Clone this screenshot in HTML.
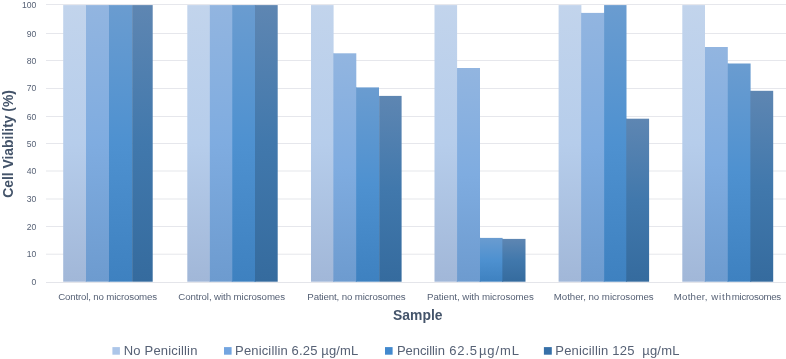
<!DOCTYPE html>
<html><head><meta charset="utf-8"><title>Cell Viability</title>
<style>html,body{margin:0;padding:0;background:#fff}svg{display:block}text{font-family:"Liberation Sans",sans-serif}</style></head><body>
<svg width="786" height="359" viewBox="0 0 786 359">
<defs>
<linearGradient id="g0" x1="0" y1="0" x2="0" y2="1"><stop offset="0" stop-color="rgb(194, 212, 236)"/><stop offset="0.5" stop-color="rgb(182, 205, 235)"/><stop offset="1" stop-color="rgb(161, 183, 216)"/></linearGradient>
<linearGradient id="g1" x1="0" y1="0" x2="0" y2="1"><stop offset="0" stop-color="rgb(146, 181, 224)"/><stop offset="0.5" stop-color="rgb(127, 172, 224)"/><stop offset="1" stop-color="rgb(109, 155, 207)"/></linearGradient>
<linearGradient id="g2" x1="0" y1="0" x2="0" y2="1"><stop offset="0" stop-color="rgb(106, 156, 208)"/><stop offset="0.5" stop-color="rgb(78, 145, 208)"/><stop offset="1" stop-color="rgb(62, 129, 192)"/></linearGradient>
<linearGradient id="g3" x1="0" y1="0" x2="0" y2="1"><stop offset="0" stop-color="rgb(94, 134, 178)"/><stop offset="0.5" stop-color="rgb(65, 120, 172)"/><stop offset="1" stop-color="rgb(53, 107, 158)"/></linearGradient>
</defs>
<rect width="786" height="359" fill="#fff"/>
<rect x="46" y="282" width="740" height="1" fill="#e4e5ea"/>
<rect x="46" y="253.7" width="740" height="1" fill="#e6e7ec"/>
<rect x="46" y="226" width="740" height="1" fill="#e6e7ec"/>
<rect x="46" y="198.5" width="740" height="1" fill="#e6e7ec"/>
<rect x="46" y="170.5" width="740" height="1" fill="#e6e7ec"/>
<rect x="46" y="143" width="740" height="1" fill="#e6e7ec"/>
<rect x="46" y="116" width="740" height="1" fill="#e6e7ec"/>
<rect x="46" y="88" width="740" height="1" fill="#e6e7ec"/>
<rect x="46" y="60" width="740" height="1" fill="#e6e7ec"/>
<rect x="46" y="33" width="740" height="1" fill="#e6e7ec"/>
<rect x="46" y="4" width="740" height="1" fill="#e6e7ec"/>
<text x="36.3" y="284.80" text-anchor="end" font-size="8.6" fill="#566175">0</text>
<text x="36.3" y="257.10" text-anchor="end" font-size="8.6" fill="#566175">10</text>
<text x="36.3" y="229.60" text-anchor="end" font-size="8.6" fill="#566175">20</text>
<text x="36.3" y="201.70" text-anchor="end" font-size="8.6" fill="#566175">30</text>
<text x="36.3" y="174.20" text-anchor="end" font-size="8.6" fill="#566175">40</text>
<text x="36.3" y="147.20" text-anchor="end" font-size="8.6" fill="#566175">50</text>
<text x="36.3" y="119.50" text-anchor="end" font-size="8.6" fill="#566175">60</text>
<text x="36.3" y="91.20" text-anchor="end" font-size="8.6" fill="#566175">70</text>
<text x="36.3" y="64.40" text-anchor="end" font-size="8.6" fill="#566175">80</text>
<text x="36.3" y="37.00" text-anchor="end" font-size="8.6" fill="#566175">90</text>
<text x="36.3" y="8.10" text-anchor="end" font-size="8.6" fill="#566175">100</text>
<rect x="85.40" y="5.10" width="1.2" height="276.60" fill="url(#g0)"/>
<rect x="108.40" y="5.10" width="1.2" height="276.60" fill="url(#g1)"/>
<rect x="63.20" y="5.10" width="22.80" height="276.60" fill="url(#g0)"/>
<rect x="86.00" y="5.10" width="23.00" height="276.60" fill="url(#g1)"/>
<rect x="109.00" y="5.10" width="23.00" height="276.60" fill="url(#g2)"/>
<rect x="132.10" y="5.10" width="20.60" height="276.60" fill="url(#g3)"/>
<rect x="209.20" y="5.10" width="1.2" height="276.60" fill="url(#g0)"/>
<rect x="231.60" y="5.10" width="1.2" height="276.60" fill="url(#g1)"/>
<rect x="254.40" y="5.10" width="1.2" height="276.60" fill="url(#g2)"/>
<rect x="187.30" y="5.10" width="22.50" height="276.60" fill="url(#g0)"/>
<rect x="209.80" y="5.10" width="22.40" height="276.60" fill="url(#g1)"/>
<rect x="232.20" y="5.10" width="22.80" height="276.60" fill="url(#g2)"/>
<rect x="255.00" y="5.10" width="22.70" height="276.60" fill="url(#g3)"/>
<rect x="333.00" y="53.30" width="1.2" height="228.40" fill="url(#g1)"/>
<rect x="355.70" y="87.40" width="1.2" height="194.30" fill="url(#g2)"/>
<rect x="311.00" y="5.10" width="22.60" height="276.60" fill="url(#g0)"/>
<rect x="333.60" y="53.30" width="22.70" height="228.40" fill="url(#g1)"/>
<rect x="356.30" y="87.40" width="22.70" height="194.30" fill="url(#g2)"/>
<rect x="379.10" y="95.90" width="22.50" height="185.80" fill="url(#g3)"/>
<rect x="456.50" y="68.00" width="1.2" height="213.70" fill="url(#g1)"/>
<rect x="479.40" y="237.90" width="1.2" height="43.80" fill="url(#g2)"/>
<rect x="502.00" y="238.90" width="1.2" height="42.80" fill="url(#g3)"/>
<rect x="434.50" y="5.10" width="22.60" height="276.60" fill="url(#g0)"/>
<rect x="457.10" y="68.00" width="22.90" height="213.70" fill="url(#g1)"/>
<rect x="480.00" y="237.90" width="22.60" height="43.80" fill="url(#g2)"/>
<rect x="502.60" y="238.90" width="22.90" height="42.80" fill="url(#g3)"/>
<rect x="580.80" y="12.90" width="1.2" height="268.80" fill="url(#g1)"/>
<rect x="603.50" y="12.90" width="1.2" height="268.80" fill="url(#g1)"/>
<rect x="625.90" y="118.70" width="1.2" height="163.00" fill="url(#g3)"/>
<rect x="558.60" y="5.10" width="22.80" height="276.60" fill="url(#g0)"/>
<rect x="581.40" y="12.90" width="22.70" height="268.80" fill="url(#g1)"/>
<rect x="604.10" y="5.10" width="22.40" height="276.60" fill="url(#g2)"/>
<rect x="626.50" y="118.70" width="22.60" height="163.00" fill="url(#g3)"/>
<rect x="704.40" y="47.00" width="1.2" height="234.70" fill="url(#g1)"/>
<rect x="727.20" y="63.50" width="1.2" height="218.20" fill="url(#g2)"/>
<rect x="750.00" y="90.80" width="1.2" height="190.90" fill="url(#g3)"/>
<rect x="682.30" y="5.10" width="22.70" height="276.60" fill="url(#g0)"/>
<rect x="705.00" y="47.00" width="22.80" height="234.70" fill="url(#g1)"/>
<rect x="727.80" y="63.50" width="22.80" height="218.20" fill="url(#g2)"/>
<rect x="750.60" y="90.80" width="22.60" height="190.90" fill="url(#g3)"/>
<text x="58.2" y="300" font-size="9.7" fill="#566175" textLength="98.9" lengthAdjust="spacing">Control, no microsomes</text>
<text x="178.3" y="300" font-size="9.7" fill="#566175" textLength="106.7" lengthAdjust="spacing">Control, with microsomes</text>
<text x="307.3" y="300" font-size="9.7" fill="#566175" textLength="98.4" lengthAdjust="spacing">Patient, no microsomes</text>
<text x="427.0" y="300" font-size="9.7" fill="#566175" textLength="106.8" lengthAdjust="spacing">Patient, with microsomes</text>
<text x="553.8" y="300" font-size="9.7" fill="#566175" textLength="99.9" lengthAdjust="spacing">Mother, no microsomes</text>
<text y="300" font-size="9.7" fill="#566175"><tspan x="673.8" textLength="33.6" lengthAdjust="spacing">Mother,</tspan><tspan x="711.2" textLength="19.8" lengthAdjust="spacing">with</tspan><tspan x="731.8" textLength="49.4" lengthAdjust="spacing">microsomes</tspan></text>
<text x="393.0" y="320.2" font-size="13.9" font-weight="bold" fill="#44546a" textLength="49.6" lengthAdjust="spacing">Sample</text>
<text transform="translate(13.1,197.8) rotate(-90)" font-size="13.9" font-weight="bold" fill="#44546a" textLength="107.8" lengthAdjust="spacing">Cell Viability (%)</text>
<rect x="112.4" y="347.1" width="7.5" height="7.6" fill="rgb(172, 198, 233)"/>
<text x="123.8" y="354.8" font-size="13" fill="#566175" textLength="73.6" lengthAdjust="spacing" xml:space="preserve">No Penicillin</text>
<rect x="224.0" y="347.1" width="7.6" height="7.6" fill="rgb(115, 165, 224)"/>
<text x="235.1" y="354.8" font-size="13" fill="#566175" textLength="123.2" lengthAdjust="spacing" xml:space="preserve">Penicillin 6.25 µg/mL</text>
<rect x="385.0" y="347.1" width="7.6" height="7.6" fill="rgb(66, 137, 206)"/>
<text y="354.8" font-size="13" fill="#566175"><tspan x="396.9" textLength="48.0" lengthAdjust="spacing">Pencillin</tspan><tspan x="449.2" textLength="27.9" lengthAdjust="spacing">62.5</tspan><tspan x="478.9" textLength="40.2" lengthAdjust="spacing">µg/mL</tspan></text>
<rect x="543.9" y="347.1" width="7.9" height="7.6" fill="rgb(55, 112, 168)"/>
<text x="555.3" y="354.8" font-size="13" fill="#566175" textLength="124.1" lengthAdjust="spacing" xml:space="preserve">Penicillin 125  µg/mL</text>
</svg></body></html>
